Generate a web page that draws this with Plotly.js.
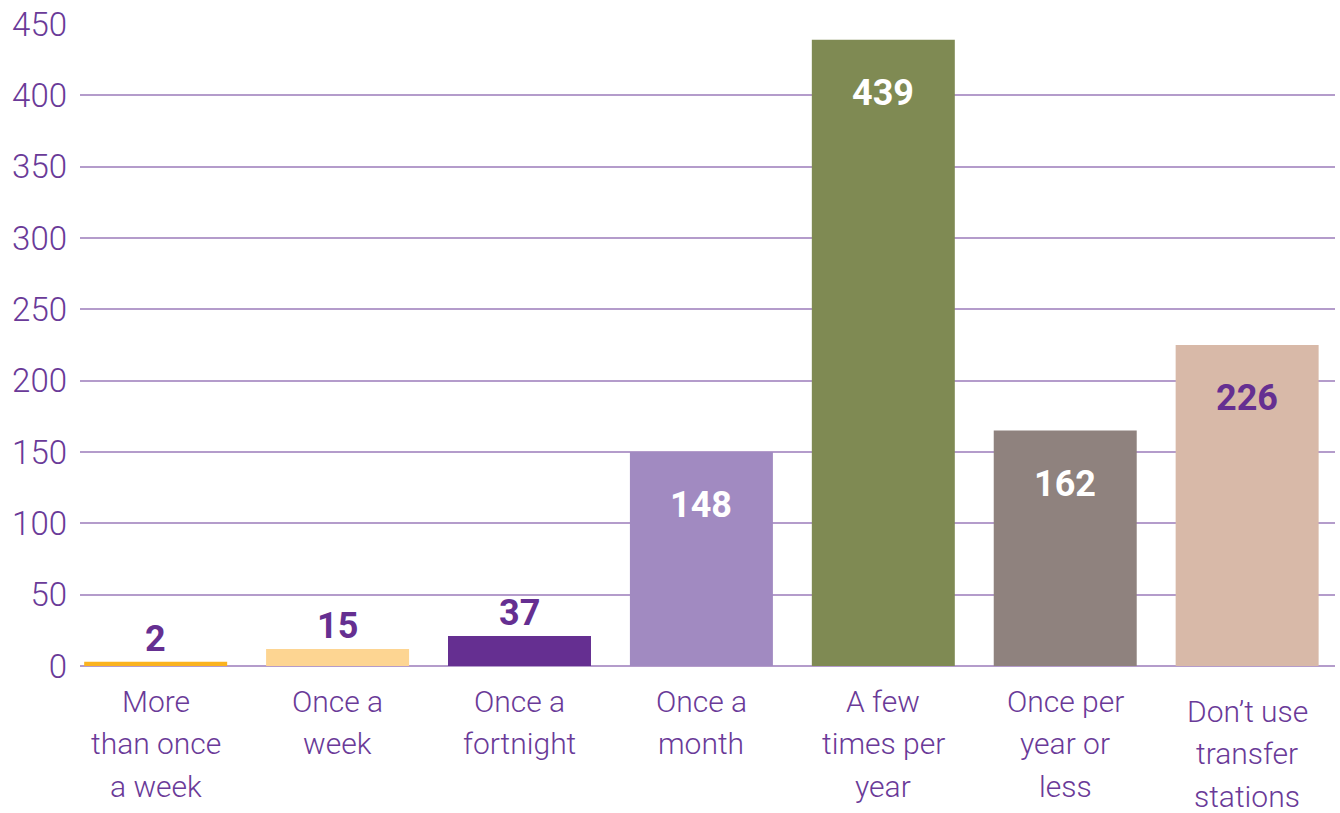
<!DOCTYPE html>
<html>
<head>
<meta charset="utf-8">
<script src="https://cdn.plot.ly/plotly-3.0.1.min.js"></script>
<style>html,body{margin:0;padding:0;background:#fff;}#chart{width:1340px;height:813px;}</style>
</head>
<body>
<div id="chart"></div>
<script>
// Data
const categories = [
  "More<br>than once<br>a week",
  "Once a<br>week",
  "Once a<br>fortnight",
  "Once a<br>month",
  "A few<br>times per<br>year",
  "Once per<br>year or<br>less",
  "Don\u2019t use<br>transfer<br>stations"
];
// bar heights as drawn in the picture
const barHeights = [3, 12, 21, 150, 439, 165, 225];
// value labels as printed on the picture
const valueLabels = ["2", "15", "37", "148", "439", "162", "226"];
const barColors = ["#FBB31F", "#FDD592", "#652F91", "#A18AC1", "#7F8A53", "#8F827E", "#D8B9A8"];
const labelInside = [false, false, false, true, true, true, true];
const labelColors = ["#652F91", "#652F91", "#652F91", "#FFFFFF", "#FFFFFF", "#FFFFFF", "#652F91"];
const yTicks = [0, 50, 100, 150, 200, 250, 300, 350, 400, 450];

const purple = "#6A3A98";
const keys = categories.map((c, i) => "c" + i);

const trace = {
  type: "bar",
  x: keys,
  y: barHeights,
  marker: {color: barColors, line: {width: 0}},
  hoverinfo: "skip"
};

const annotations = [];
// value labels
keys.forEach((k, i) => {
  annotations.push({
    x: k, y: barHeights[i], xref: "x", yref: "y",
    text: valueLabels[i], showarrow: false,
    yanchor: labelInside[i] ? "top" : "bottom",
    yshift: labelInside[i] ? -30 : 0,
    font: {family: "Roboto", size: 36, weight: 700, color: labelColors[i]}
  });
});
// category labels (one annotation per line)
keys.forEach((k, i) => {
  const lines = categories[i].split("<br>");
  const base = (i === categories.length - 1) ? -45 : -35;
  lines.forEach((ln, j) => {
    annotations.push({
      x: k, y: 0, xref: "x", yref: "paper",
      text: ln, showarrow: false, yanchor: "middle",
      yshift: base - j * 42.5,
      font: {family: "Roboto", size: 30, weight: 300, color: purple}
    });
  });
});

const layout = {
  width: 1340, height: 813,
  margin: {l: 80, r: 5, t: 23, b: 147},
  paper_bgcolor: "#fff", plot_bgcolor: "#fff",
  showlegend: false,
  bargap: 0.214,
  xaxis: {
    type: "category",
    range: [-0.416, 6.483],
    showticklabels: false,
    showgrid: false, zeroline: false, showline: false, ticks: ""
  },
  yaxis: {
    range: [0, 450.7],
    tickvals: yTicks,
    ticktext: yTicks.map(String),
    showgrid: true, gridcolor: "#B49CCB", gridwidth: 2,
    zeroline: true, zerolinecolor: "#B49CCB", zerolinewidth: 2,
    showline: false, ticks: "",
    ticklabelstandoff: 12,
    tickfont: {family: "Roboto", size: 33, weight: 300, color: purple}
  },
  annotations: annotations
};

Plotly.newPlot("chart", [trace], layout, {staticPlot: true, displayModeBar: false});
</script>
</body>
</html>
